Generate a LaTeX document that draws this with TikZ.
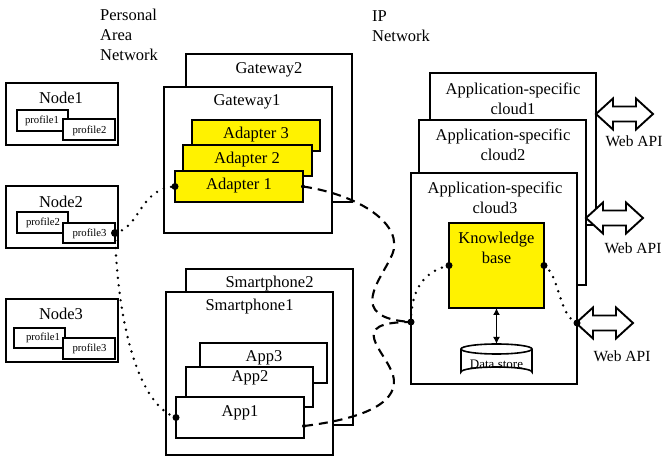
\documentclass[tikz,border=0pt]{standalone}
\usepackage{fontspec}
\setmainfont{Liberation Serif}
\usetikzlibrary{calc,arrows.meta}
\begin{document}
\begin{tikzpicture}[x=1pt,y=-1pt,
  box/.style={draw, line width=1.9pt, fill=white, inner sep=0pt, outer sep=0pt, anchor=north west},
  ybox/.style={box, fill=yellow},
  sz/.style 2 args={minimum width=#1pt, minimum height=#2pt},
  lbl/.style={inner sep=0pt, font=\fontsize{16.5}{20}\selectfont, align=center},
  small/.style={inner sep=0pt, font=\fontsize{10.7}{12}\selectfont},
  apilbl/.style={inner sep=0pt, font=\fontsize{15.5}{18}\selectfont},
  dotline/.style={line width=2.7pt, line cap=round, dash pattern=on 0pt off 7.5pt},
  dashline/.style={line width=2.1pt, dash pattern=on 9pt off 6pt},
  bigdot/.style={fill=black},
  dblarrow/.pic={\draw[fill=white, line width=1.9pt, line join=miter]
    (0,0) -- (17,-15.5) -- (17,-7.5) -- (40,-7.5) -- (40,-15.5) -- (57,0)
    -- (40,15.5) -- (40,7.5) -- (17,7.5) -- (17,15.5) -- cycle;}
]
\useasboundingbox (0,0) rectangle (665,457);

% section headings
\node[lbl, align=left, anchor=west] (pan) at (100,35) {Personal\\Area\\Network};
\node[lbl, align=left, anchor=west] (ipn) at (372,26) {IP\\Network};

% sensor nodes with their profiles
\node[box, sz={112}{62}] (n1) at (6,83) {};
\node[lbl] (n1l) at (61,98) {Node1};
\node[box, sz={51}{21}] (n1p1) at (17,110) {};
\node[small] (n1p1l) at (42,121) {profile1};
\node[box, sz={52}{21}] (n1p2) at (63,119) {};
\node[small] (n1p2l) at (89.5,131) {profile2};

\node[box, sz={112}{62}] (n2) at (6,186) {};
\node[lbl] (n2l) at (61,202) {Node2};
\node[box, sz={51}{21}] (n2p2) at (17,212) {};
\node[small] (n2p2l) at (43,223) {profile2};
\node[box, sz={52}{20}] (n2p3) at (63,223) {};
\node[small] (n2p3l) at (89.5,234) {profile3};

\node[box, sz={112}{63}] (n3) at (6,299) {};
\node[lbl] (n3l) at (61,314) {Node3};
\node[box, sz={51}{20}] (n3p1) at (14,328) {};
\node[small] (n3p1l) at (43,338) {profile1};
\node[box, sz={52}{21}] (n3p3) at (63,338) {};
\node[small] (n3p3l) at (89.5,349) {profile3};

% gateways
\node[box, sz={166}{148}] (gw2) at (186,54) {};
\node[lbl] (gw2l) at (269,70) {Gateway2};
\node[box, sz={168}{146}] (gw1) at (164,87) {};
\node[lbl] (gw1l) at (247,102) {Gateway1};
\node[ybox, sz={128}{31}] (ad3) at (192,120) {};
\node[lbl] (ad3l) at (256,135) {Adapter 3};
\node[ybox, sz={129}{31}] (ad2) at (183,145) {};
\node[lbl] (ad2l) at (247,160) {Adapter 2};
\node[ybox, sz={128}{31}] (ad1) at (175,171) {};
\node[lbl] (ad1l) at (239,186) {Adapter 1};

% smartphones
\node[box, sz={167}{156}] (sp2) at (186,269) {};
\node[lbl] (sp2l) at (269.5,284) {Smartphone2};
\node[box, sz={167}{163}] (sp1) at (166,292) {};
\node[lbl] (sp1l) at (249.5,307) {Smartphone1};
\node[box, sz={127}{40}] (app3) at (200,343) {};
\node[lbl] (app3l) at (264,358) {App3};
\node[box, sz={127}{40}] (app2) at (186,367) {};
\node[lbl] (app2l) at (250,378) {App2};
\node[box, sz={128}{41}] (app1) at (176,397) {};
\node[lbl] (app1l) at (240,413) {App1};

% application-specific clouds
\node[box, sz={166}{152}] (c1) at (430,73) {};
\node[lbl] (c1l) at (513,99) {Application-specific\\cloud1};
\node[box, sz={167}{165}] (c2) at (419,120) {};
\node[lbl] (c2l) at (503,144.5) {Application-specific\\cloud2};
\node[box, sz={166}{211}] (c3) at (411,173) {};
\node[lbl] (c3l) at (495,198) {Application-specific\\cloud3};
\node[ybox, sz={95}{85}] (kb) at (449,223) {};
\node[lbl] (kbl) at (496.5,248) {Knowledge\\base};

% data store cylinder
\draw[line width=1.6pt, fill=white] (461,349) -- (461,372)
  arc[start angle=180, end angle=360, x radius=35.5, y radius=5] -- (532,349);
\draw[line width=1.6pt, fill=white] (496.5,349) ellipse [x radius=35.5, y radius=5];
\node[inner sep=0pt, font=\fontsize{13}{15}\selectfont] (ds) at (496.5,364) {Data store};
\coordinate (dstop) at (496.5,344);
\draw[line width=1.8pt, {Latex[length=7pt,width=7pt]}-{Latex[length=7pt,width=7pt]}] (kb.south) -- (dstop);

% web API arrows
\pic (w1) at (596,114) {dblarrow};
\node[apilbl] (w1l) at (634,141) {Web API};
\pic (w2) at (586,218) {dblarrow};
\node[apilbl] (w2l) at (633,248) {Web API};
\pic (w3) at (576,323) {dblarrow};
\node[apilbl] (w3l) at (622,356) {Web API};

% connection points
\coordinate (p3) at (n2p3.east);
\coordinate (c3in) at ($(c3.north west)+(0,149)$);
\coordinate (c3out) at ($(c3.north east)+(0,150)$);
\coordinate (a1out) at ($(app1.east)+(0,8.5)$);

% personal area network links
\draw[dotline] (p3) .. controls (140,228) and (140,188) .. (ad1.west);
\draw[dotline] (p3) .. controls (118,330) and (140,405) .. (app1.west);

% IP network links
\draw[dashline] (ad1.east) .. controls (360,195) and (405,225) .. (392,255)
  .. controls (381,280) and (345,318) .. (c3in);
\draw[dashline] (a1out) .. controls (370,418) and (400,400) .. (393,375)
  .. controls (385,350) and (345,322) .. (c3in);
\draw[dotline] (kb.west) .. controls (420,272) and (411,295) .. (c3in);
\draw[dotline] (kb.east) .. controls (560,275) and (558,315) .. (c3out);

% end points
\fill[bigdot] (p3) circle (4pt);
\fill[bigdot] (ad1.west) circle (3.5pt);
\fill[bigdot] (app1.west) circle (3.5pt);
\fill[bigdot] (c3in) circle (3.5pt);
\fill[bigdot] (c3out) circle (3.5pt);
\fill[bigdot] (kb.west) circle (3.5pt);
\fill[bigdot] (kb.east) circle (3.5pt);
\fill[bigdot] (ad1.east) circle (2pt);
\fill[bigdot] (a1out) circle (2pt);
\end{tikzpicture}
\end{document}
